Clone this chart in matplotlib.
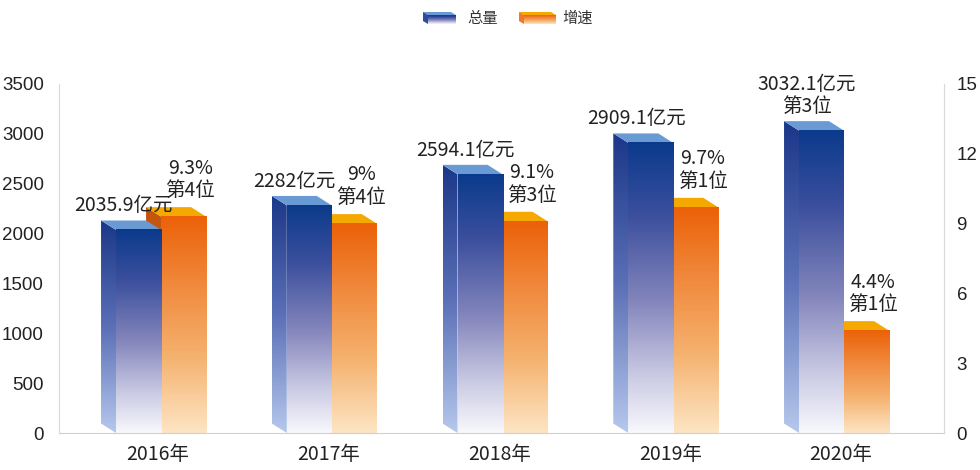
import numpy as np
import matplotlib
matplotlib.use('Agg')
import matplotlib.pyplot as plt
from matplotlib.colors import LinearSegmentedColormap
from matplotlib.patches import Polygon

# ---------------- data ----------------
years = ['2016年', '2017年', '2018年', '2019年', '2020年']
total = [2035.9, 2282, 2594.1, 2909.1, 3032.1]
growth = [9.3, 9, 9.1, 9.7, 4.4]
total_labels = ['2035.9亿元', '2282亿元', '2594.1亿元', '2909.1亿元', '3032.1亿元\n第3位']
growth_labels = ['9.3%\n第4位', '9%\n第4位', '9.1%\n第3位', '9.7%\n第1位', '4.4%\n第1位']
legend_labels = ['总量', '增速']
left_ticks = [0, 500, 1000, 1500, 2000, 2500, 3000, 3500]
right_ticks = [0, 3, 6, 9, 12, 15]

plt.rcParams['font.family'] = ['Noto Sans CJK SC', 'DejaVu Sans']

W, H = 980, 470
fig = plt.figure(figsize=(W / 100, H / 100), dpi=100)
fig.patch.set_facecolor('white')

AX_L, AX_B, AX_W, AX_H = 59, 37, 885, 349
XMIN, XMAX = -0.58, 4.603
YMAX_L, YMAX_R = 3500, 15

ax = fig.add_axes([AX_L / W, AX_B / H, AX_W / W, AX_H / H])
ax2 = ax.twinx()
ax.set_zorder(2)
ax2.set_zorder(1)
ax.patch.set_visible(False)

px_x = AX_W / (XMAX - XMIN)
px_yl = AX_H / YMAX_L
px_yr = AX_H / YMAX_R

# 3D offsets (pixels)
DX, DY = -15, 9.5
BAR_W = 45 / px_x
BLUE_OFF = -42 / px_x
ORANGE_OFF = 3 / px_x

blue_front = LinearSegmentedColormap.from_list('bf', [(0, '#0b3a8c'), (0.25, '#3b4f9d'), (0.55, '#8486bc'), (0.8, '#c9c9e3'), (1, '#f8f8fd')])
blue_side = LinearSegmentedColormap.from_list('bs', [(0, '#1b3788'), (0.5, '#5a6fb6'), (1, '#b6c8ec')])
orange_front = LinearSegmentedColormap.from_list('of', [(0, '#eb6108'), (0.3, '#f0873a'), (0.65, '#f5b26f'), (1, '#fde5c4')])
orange_side = LinearSegmentedColormap.from_list('os', [(0, '#c2540c'), (1, '#e58a48')])
BLUE_TOP = '#6a9ad4'
ORANGE_TOP = '#f5a900'

grad = np.linspace(0, 1, 256).reshape(-1, 1)


def draw_box(axis, xl, h, py, cf, cs, ctop, z):
    dxu = DX / px_x
    dyu = DY / py
    # side face
    sverts = [(xl, 0), (xl, h), (xl + dxu, h + dyu), (xl + dxu, dyu)]
    poly = Polygon(sverts, closed=True, transform=axis.transData, facecolor='none', edgecolor='none')
    im = axis.imshow(grad, cmap=cs, extent=[xl + dxu, xl, 0, h + dyu], origin='upper',
                     aspect='auto', interpolation='bilinear', zorder=z)
    im.set_clip_path(poly)
    # top face
    tverts = [(xl, h), (xl + BAR_W, h), (xl + BAR_W + dxu, h + dyu), (xl + dxu, h + dyu)]
    axis.add_patch(Polygon(tverts, closed=True, facecolor=ctop, edgecolor='none', zorder=z + 0.1))
    # front face
    axis.imshow(grad, cmap=cf, extent=[xl, xl + BAR_W, 0, h], origin='upper',
                aspect='auto', interpolation='bilinear', zorder=z + 0.2)


for i in range(len(years)):
    draw_box(ax2, i + ORANGE_OFF, growth[i], px_yr, orange_front, orange_side, ORANGE_TOP, 2)
    draw_box(ax, i + BLUE_OFF, total[i], px_yl, blue_front, blue_side, BLUE_TOP, 2)
    ax.text(i - 0.2, total[i] + (DY + 4) / px_yl, total_labels[i], ha='center', va='bottom',
            fontsize=14, color='#222222', linespacing=1.1, zorder=5)
    ax2.text(i + 0.19, growth[i] + (DY + 6) / px_yr, growth_labels[i], ha='center', va='bottom',
             fontsize=14, color='#222222', linespacing=1.1, zorder=5)

for a, ymax in ((ax, YMAX_L), (ax2, YMAX_R)):
    a.set_xlim(XMIN, XMAX)
    a.set_ylim(0, ymax)
    for s in a.spines.values():
        s.set_visible(False)

ax.spines['left'].set_visible(True)
ax.spines['left'].set_color('#d9d9d9')
ax.spines['bottom'].set_visible(True)
ax.spines['bottom'].set_color('#d0d0d0')
ax2.spines['right'].set_visible(True)
ax2.spines['right'].set_color('#d9d9d9')

ax.set_yticks(left_ticks)
ax.set_yticklabels([str(t) for t in left_ticks], family='Liberation Sans', fontsize=13.5, color='#222222')
ax2.set_yticks(right_ticks)
ax2.set_yticklabels([str(t) for t in right_ticks], family='Liberation Sans', fontsize=13.5, color='#222222')
ax.set_xticks(range(len(years)))
ax.set_xticklabels(years, fontsize=14, color='#222222')
ax.tick_params(axis='y', length=0, pad=11)
ax2.tick_params(axis='y', length=0, pad=9)
ax.tick_params(axis='x', length=0, pad=8)

# ---------------- legend ----------------
lax = fig.add_axes([0, 0, 1, 1], zorder=10)
lax.set_xlim(0, W)
lax.set_ylim(H, 0)
lax.axis('off')


def legend_swatch(x0, x1, cf, ctop, label, tx):
    y0, y1 = 15, 24
    ldx, ldy = -5, -3
    lax.add_patch(Polygon([(x0, y0), (x1, y0), (x1 + ldx, y0 + ldy), (x0 + ldx, y0 + ldy)],
                          closed=True, facecolor=ctop, edgecolor='none'))
    lax.add_patch(Polygon([(x0, y0), (x0, y1), (x0 + ldx, y1 + ldy), (x0 + ldx, y0 + ldy)],
                          closed=True, facecolor=cf(0.2), edgecolor='none'))
    lax.imshow(grad, cmap=cf, extent=[x0, x1, y1, y0], origin='upper', aspect='auto',
               interpolation='bilinear')
    lax.text(tx, 18.5, label, ha='left', va='center', fontsize=11, color='#333333')


legend_swatch(428, 456, blue_front, BLUE_TOP, legend_labels[0], 467)
legend_swatch(524, 556, orange_front, ORANGE_TOP, legend_labels[1], 562)
lax.set_xlim(0, W)
lax.set_ylim(H, 0)

fig.savefig('out.png', dpi=100, facecolor='white')
